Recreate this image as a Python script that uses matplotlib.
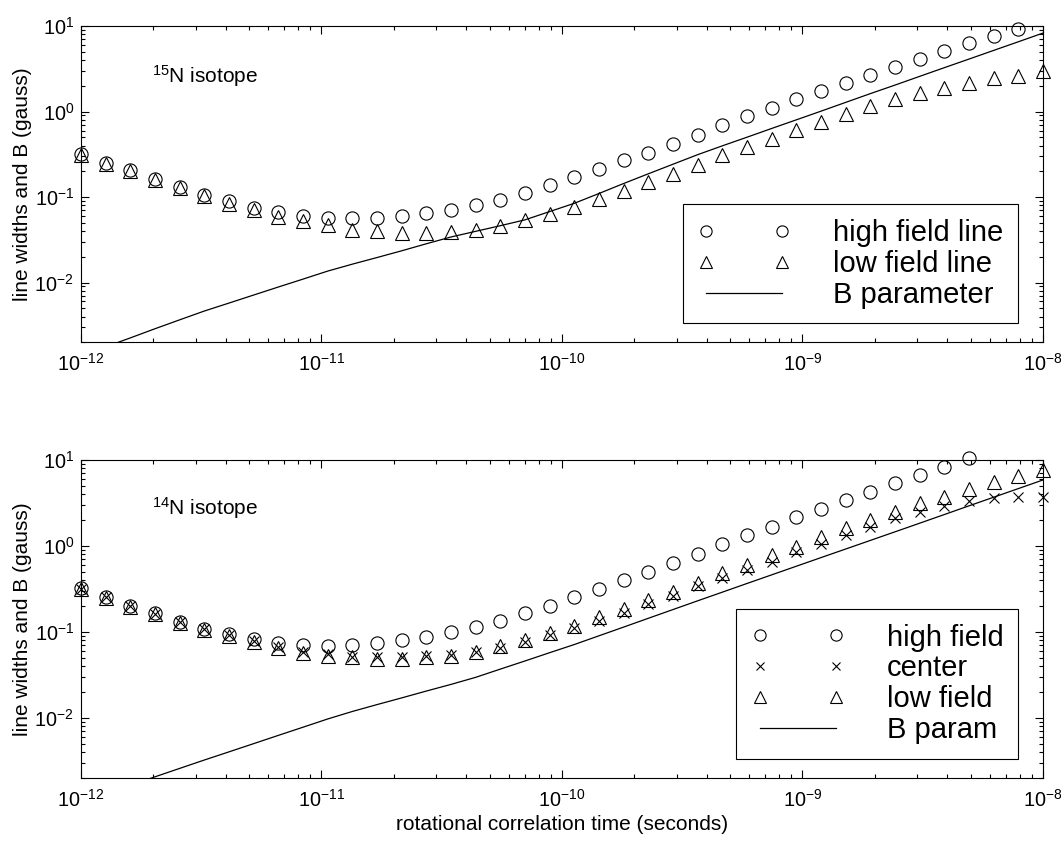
import numpy as np
import matplotlib
matplotlib.use("Agg")
import matplotlib.pyplot as plt
from matplotlib.ticker import LogLocator, NullFormatter

plt.rcParams['font.family'] = ['Liberation Sans', 'DejaVu Sans']
plt.rcParams['mathtext.fontset'] = 'custom'
plt.rcParams['mathtext.rm'] = 'Liberation Sans'
plt.rcParams['mathtext.it'] = 'Liberation Sans:italic'
plt.rcParams['mathtext.default'] = 'regular'

nan = np.nan

# rotational correlation time grid (40 points, 1e-12 .. 1e-8 s)
tau = np.logspace(-12, -8, 40)

# 15N isotope
n15_high = [0.316, 0.249, 0.205, 0.161, 0.131, 0.106, 0.0888, 0.075, 0.0666, 0.0608,
            0.0576, 0.0572, 0.0572, 0.0597, 0.0647, 0.071, 0.0797, 0.093, 0.112, 0.137,
            0.171, 0.211, 0.269, 0.330, 0.421, 0.527, 0.690, 0.88, 1.11, 1.39,
            1.74, 2.13, 2.66, 3.33, 4.07, 5.13, 6.27, 7.63, 9.23, nan]
n15_low = [0.31, 0.245, 0.2, 0.158, 0.128, 0.103, 0.0834, 0.0697, 0.0582, 0.0523,
           0.0465, 0.0415, 0.0398, 0.0381, 0.0381, 0.0388, 0.0417, 0.0456, 0.0532, 0.0637,
           0.0762, 0.0955, 0.119, 0.150, 0.187, 0.239, 0.308, 0.385, 0.482, 0.604,
           0.755, 0.948, 1.15, 1.42, 1.65, 1.91, 2.13, 2.44, 2.61, 2.99]
n15_B = [0.00138, 0.00177, 0.00225, 0.00288, 0.00366, 0.00464, 0.00575, 0.00714, 0.00886, 0.01096,
         0.0136, 0.0164, 0.0196, 0.0235, 0.0284, 0.0341, 0.0397, 0.0462, 0.0541, 0.0676,
         0.0845, 0.110, 0.144, 0.187, 0.242, 0.313, 0.397, 0.501, 0.634, 0.80,
         1.01, 1.28, 1.62, 2.04, 2.58, 3.26, 4.11, 5.19, 6.55, 8.28]

# 14N isotope
n14_high = [0.322, 0.258, 0.202, 0.165, 0.132, 0.109, 0.094, 0.082, 0.075, 0.0707,
            0.0688, 0.070, 0.0738, 0.0807, 0.0883, 0.0993, 0.115, 0.135, 0.165, 0.202,
            0.253, 0.316, 0.403, 0.503, 0.64, 0.815, 1.055, 1.34, 1.68, 2.16,
            2.67, 3.43, 4.28, 5.45, 6.69, 8.36, 10.45, nan, nan, nan]
n14_center = [0.318, 0.254, 0.2, 0.162, 0.13, 0.107, 0.091, 0.079, 0.067, 0.059,
              0.055, 0.051, 0.0517, 0.0508, 0.0525, 0.054, 0.058, 0.0646, 0.077, 0.092,
              0.110, 0.1335, 0.166, 0.212, 0.263, 0.345, 0.421, 0.526, 0.657, 0.859,
              1.055, 1.34, 1.68, 2.10, 2.51, 2.92, 3.36, 3.59, 3.75, 3.75]
n14_low = [0.315, 0.25, 0.197, 0.16, 0.128, 0.105, 0.089, 0.077, 0.0646, 0.0565,
           0.053, 0.0505, 0.0482, 0.049, 0.0508, 0.053, 0.059, 0.0687, 0.0807, 0.0964,
           0.117, 0.148, 0.184, 0.235, 0.294, 0.374, 0.481, 0.601, 0.785, 0.982,
           1.28, 1.60, 2.01, 2.50, 3.13, 3.75, 4.56, 5.60, 6.52, 7.65]
n14_B = [0.00104, 0.00131, 0.00164, 0.00206, 0.00258, 0.00323, 0.00402, 0.00501, 0.00625, 0.00778,
         0.0097, 0.01186, 0.01426, 0.01706, 0.0205, 0.0245, 0.0296, 0.0369, 0.0459, 0.0573,
         0.0713, 0.0901, 0.1138, 0.144, 0.182, 0.230, 0.290, 0.366, 0.461, 0.581,
         0.732, 0.921, 1.16, 1.46, 1.84, 2.32, 2.93, 3.69, 4.65, 5.86]


def style_axes(ax):
    ax.set_xscale('log')
    ax.set_yscale('log')
    ax.set_xlim(1e-12, 1e-8)
    ax.set_ylim(2e-3, 10)
    ax.set_xticks([1e-12, 1e-11, 1e-10, 1e-9, 1e-8])
    ax.set_yticks([1e-2, 1e-1, 1e0, 1e1])
    ax.xaxis.set_minor_locator(LogLocator(base=10, subs=np.arange(2, 10)))
    ax.yaxis.set_minor_locator(LogLocator(base=10, subs=np.arange(2, 10)))
    ax.xaxis.set_minor_formatter(NullFormatter())
    ax.yaxis.set_minor_formatter(NullFormatter())
    ax.tick_params(which='both', direction='in', top=True, right=True, width=0.8)
    ax.tick_params(which='major', length=6, labelsize=14.3)
    ax.tick_params(which='minor', length=3)
    ax.tick_params(axis='x', which='major', pad=8)
    ax.tick_params(axis='y', which='major', pad=5)
    for s in ax.spines.values():
        s.set_linewidth(0.8)
    ax.set_ylabel('line widths and B (gauss)', fontsize=15, labelpad=2)


def add_legend(ax):
    leg = ax.legend(loc='lower right', bbox_to_anchor=(0.974, 0.06), borderaxespad=0,
                    numpoints=2, markerscale=0.85, fontsize=21, handlelength=3.2,
                    handletextpad=1.45, labelspacing=0.1, borderpad=0.5,
                    fancybox=False, edgecolor='black', framealpha=1)
    leg.get_frame().set_linewidth(0.8)


mk = dict(linestyle='none', color='black', markerfacecolor='none',
          markeredgewidth=0.8, clip_on=False)

fig = plt.figure(figsize=(10.61, 8.41), dpi=100)
ax1 = fig.add_axes([0.0763, 0.593, 0.9067, 0.376])
ax2 = fig.add_axes([0.0763, 0.075, 0.9067, 0.378])

# top panel
ax1.plot(tau, n15_high, marker='o', markersize=9.5, label='high field line', **mk)
ax1.plot(tau, n15_low, marker='^', markersize=10.5, label='low field line', **mk)
ax1.plot(tau, n15_B, color='black', linewidth=0.9, label='B parameter')
style_axes(ax1)
ax1.text(0.074, 0.842, '$^{15}$N isotope', transform=ax1.transAxes,
         fontsize=15, va='center', ha='left')
add_legend(ax1)

# bottom panel
ax2.plot(tau, n14_high, marker='o', markersize=9.5, label='high field', **mk)
ax2.plot(tau, n14_center, marker='x', markersize=6.5, label='center', **mk)
ax2.plot(tau, n14_low, marker='^', markersize=10.5, label='low field', **mk)
ax2.plot(tau, n14_B, color='black', linewidth=0.9, label='B param')
style_axes(ax2)
ax2.text(0.074, 0.849, '$^{14}$N isotope', transform=ax2.transAxes,
         fontsize=15, va='center', ha='left')
ax2.set_xlabel('rotational correlation time (seconds)', fontsize=15, labelpad=3)
add_legend(ax2)

fig.savefig('out.png', dpi=100)
